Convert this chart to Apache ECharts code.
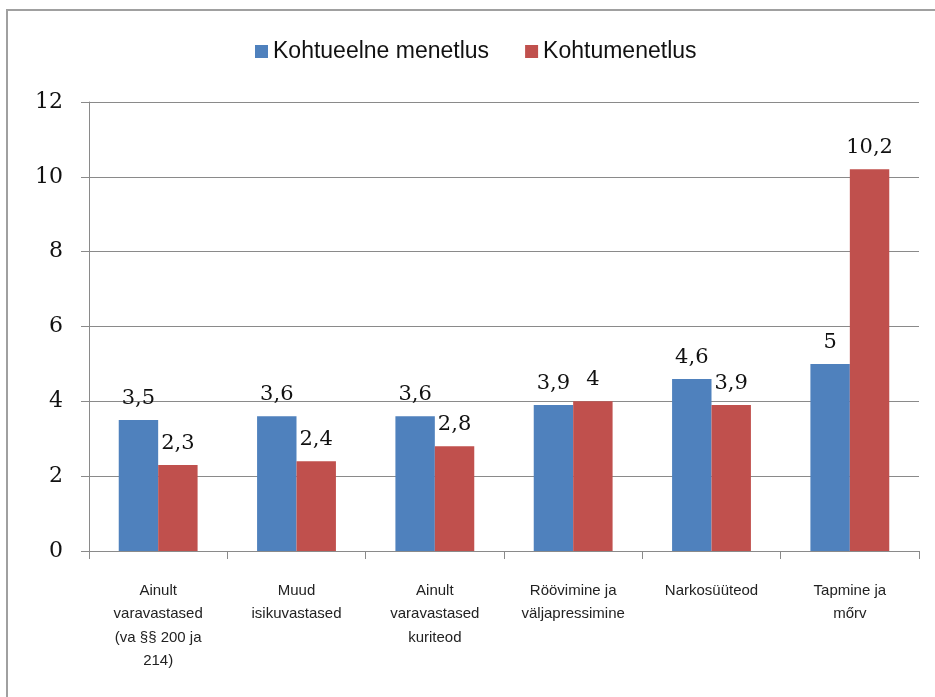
<!DOCTYPE html>
<html>
<head>
<meta charset="utf-8">
<script src="https://cdn.jsdelivr.net/npm/echarts@6/dist/echarts.min.js"></script>
<style>html,body{margin:0;padding:0;background:#fff}#c{width:935px;height:697px}</style>
</head>
<body>
<div id="c"></div>
<script>
var categories = [
  "Ainult\nvaravastased\n(va §§ 200 ja\n214)",
  "Muud\nisikuvastased",
  "Ainult\nvaravastased\nkuriteod",
  "Röövimine ja\nväljapressimine",
  "Narkosüüteod",
  "Tapmine ja\nmőrv"
];
var seriesNames = ["Kohtueelne menetlus", "Kohtumenetlus"];
var pretrial = [3.5, 3.6, 3.6, 3.9, 4.6, 5];
var court = [2.3, 2.4, 2.8, 4, 3.9, 10.2];
var yTicks = { min: 0, max: 12, interval: 2 };

var chart = echarts.init(document.getElementById('c'), null, { renderer: 'canvas' });
var labelFmt = function (p) { return String(p.value).replace('.', ','); };
var dataLabel = {
  show: true, position: 'top', distance: 11, formatter: labelFmt,
  color: '#111', fontFamily: 'DejaVu Serif', fontSize: 21
};
chart.setOption({
  animation: false,
  backgroundColor: '#fff',
  graphic: [{
    type: 'rect', shape: { x: 7, y: 10, width: 1000, height: 800 },
    style: { fill: 'none', stroke: '#a0a0a0', lineWidth: 2 }, silent: true
  }],
  legend: {
    left: 250, top: 35,
    itemWidth: 13, itemHeight: 13, itemGap: 36,
    icon: 'rect',
    textStyle: { fontFamily: 'Liberation Sans Narrow, Arial Narrow, sans-serif', fontSize: 23, color: '#111' },
    data: seriesNames
  },
  grid: { left: 89, right: 16, top: 102, bottom: 146, containLabel: false },
  xAxis: {
    type: 'category', data: categories,
    axisLine: { lineStyle: { color: '#8a8a8a', width: 1 } },
    axisTick: { show: true, length: 8, lineStyle: { color: '#8a8a8a' } },
    axisLabel: {
      interval: 0, margin: 28, color: '#222',
      fontFamily: 'Liberation Sans, sans-serif', fontSize: 15, lineHeight: 23.5
    }
  },
  yAxis: {
    type: 'value', min: yTicks.min, max: yTicks.max, interval: yTicks.interval,
    axisLine: { show: true, lineStyle: { color: '#8a8a8a', width: 1 } },
    axisTick: { show: true, length: 8, lineStyle: { color: '#8a8a8a' } },
    splitLine: { show: true, lineStyle: { color: '#8a8a8a', width: 1 } },
    axisLabel: { margin: 26, color: '#111', fontFamily: 'DejaVu Serif', fontSize: 22 }
  },
  series: [
    { name: seriesNames[0], type: 'bar', data: pretrial, barGap: '0%', barCategoryGap: '43%',
      itemStyle: { color: '#4F81BD' }, label: dataLabel },
    { name: seriesNames[1], type: 'bar', data: court, barGap: '0%', barCategoryGap: '43%',
      itemStyle: { color: '#C0504D' }, label: dataLabel }
  ]
});
</script>
</body>
</html>
